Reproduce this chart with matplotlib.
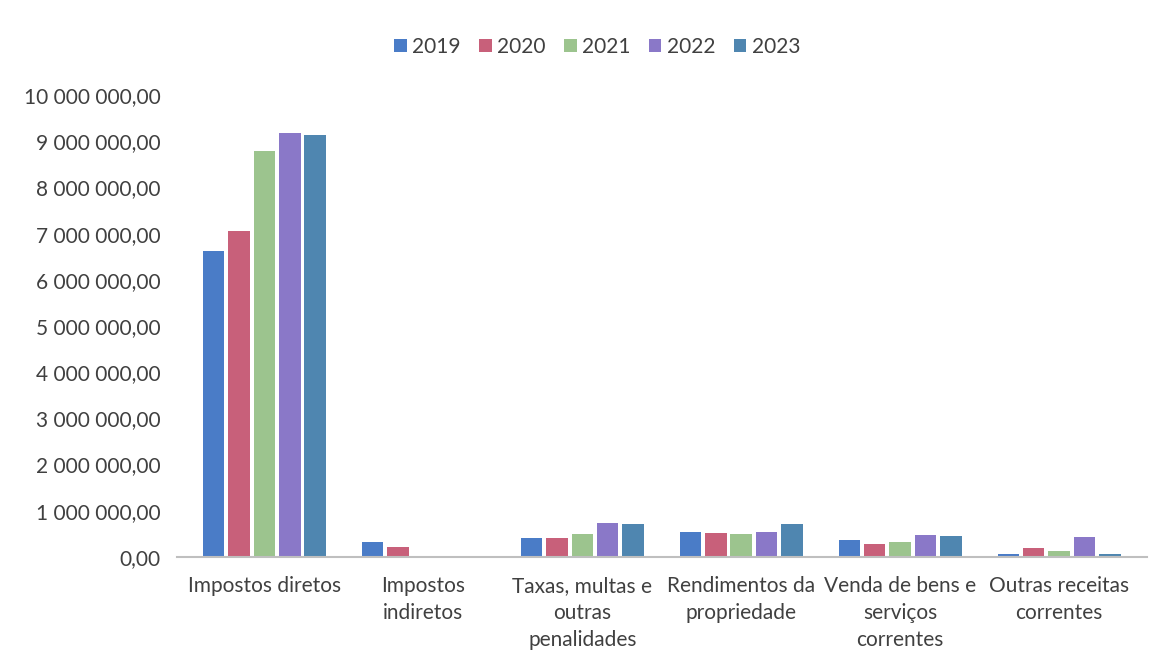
import matplotlib
matplotlib.use("Agg")
import matplotlib.pyplot as plt
import numpy as np
from matplotlib.ticker import FuncFormatter

categories = ["Impostos diretos", "Impostos\nindiretos", "Taxas, multas e\noutras\npenalidades",
              "Rendimentos da\npropriedade", "Venda de bens e\nserviços\ncorrentes", "Outras receitas\ncorrentes"]
years = ["2019", "2020", "2021", "2022", "2023"]
values = {
    "2019": [6620000, 330000, 410000, 540000, 370000, 50000],
    "2020": [7060000, 220000, 400000, 510000, 270000, 180000],
    "2021": [8790000, 0, 500000, 500000, 330000, 120000],
    "2022": [9180000, 0, 730000, 540000, 470000, 420000],
    "2023": [9130000, 0, 710000, 710000, 460000, 50000],
}
colors = ["#4A7CC7", "#C8607A", "#9CC48E", "#8A78C8", "#4F86B0"]

plt.rcParams['font.family'] = ['Lato', 'DejaVu Sans']

fig = plt.figure(figsize=(11.64, 6.52), dpi=100)
ax = fig.add_axes([0.152, 0.146, 0.833, 0.708])

x = np.arange(len(categories))
pitch = 0.16
width = 0.135
for i, y in enumerate(years):
    ax.bar(x + (i - 2) * pitch, values[y], width=width, color=colors[i], label=y, zorder=2)

ax.set_xlim(-0.55, len(categories) - 0.45)
ax.set_ylim(0, 10000000)
ax.set_yticks(np.arange(0, 10000001, 1000000))

def fmt(v, pos):
    s = f"{v:,.2f}"
    s = s.replace(",", " ").replace(".", ",")
    return s

ax.yaxis.set_major_formatter(FuncFormatter(fmt))
ax.set_xticks(x)
ax.set_xticklabels(categories, fontsize=15, color="#404040", linespacing=1.42, va="top")
ax.tick_params(axis='y', labelsize=15, colors="#404040", length=0, pad=12)
ax.tick_params(axis='x', length=0, pad=14)
for s in ["top", "right", "left"]:
    ax.spines[s].set_visible(False)
ax.spines["bottom"].set_color("#BFBFBF")
ax.spines["bottom"].set_linewidth(1.5)

fig.legend(loc="upper center", bbox_to_anchor=(0.513, 0.972), ncol=5, frameon=False,
           fontsize=15, handlelength=0.6, handleheight=0.6, handletextpad=0.25, columnspacing=0.9,
           labelcolor="#404040")

fig.savefig("out.png", dpi=100, facecolor="white")
